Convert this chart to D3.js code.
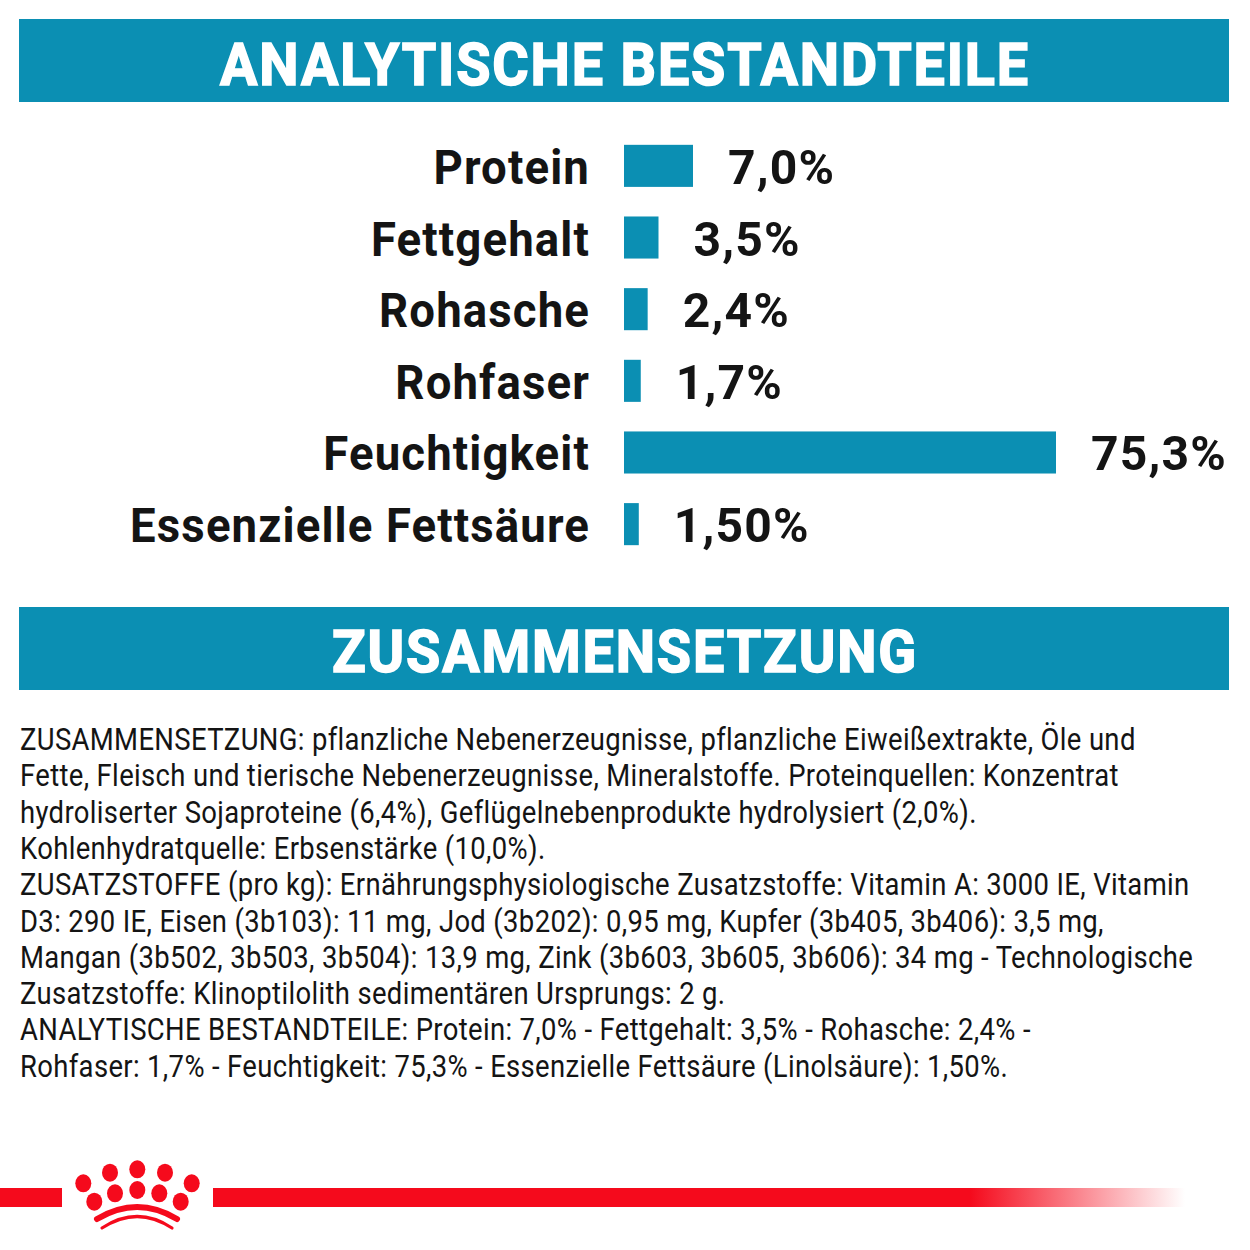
<!DOCTYPE html>
<html>
<head>
<meta charset="utf-8">
<script src="https://cdn.jsdelivr.net/npm/d3@7"></script>
<style>
  html, body { margin: 0; padding: 0; background: #fff; }
  svg { display: block; }
  text { font-family: Roboto, "Noto Sans", "Liberation Sans", sans-serif; }
</style>
</head>
<body>
<script>
// ---- data ----
const headers = ["ANALYTISCHE BESTANDTEILE", "ZUSAMMENSETZUNG"];
const categories = ["Protein", "Fettgehalt", "Rohasche", "Rohfaser", "Feuchtigkeit", "Essenzielle Fettsäure"];
const values = [7.0, 3.5, 2.4, 1.7, 75.3, 1.50];
const valueLabels = ["7,0%", "3,5%", "2,4%", "1,7%", "75,3%", "1,50%"];
const bodyLines = [
  "ZUSAMMENSETZUNG: pflanzliche Nebenerzeugnisse, pflanzliche Eiweißextrakte, Öle und",
  "Fette, Fleisch und tierische Nebenerzeugnisse, Mineralstoffe. Proteinquellen: Konzentrat",
  "hydroliserter Sojaproteine (6,4%), Geflügelnebenprodukte hydrolysiert (2,0%).",
  "Kohlenhydratquelle: Erbsenstärke (10,0%).",
  "ZUSATZSTOFFE (pro kg): Ernährungsphysiologische Zusatzstoffe: Vitamin A: 3000 IE, Vitamin",
  "D3: 290 IE, Eisen (3b103): 11 mg, Jod (3b202): 0,95 mg, Kupfer (3b405, 3b406): 3,5 mg,",
  "Mangan (3b502, 3b503, 3b504): 13,9 mg, Zink (3b603, 3b605, 3b606): 34 mg - Technologische",
  "Zusatzstoffe: Klinoptilolith sedimentären Ursprungs: 2 g.",
  "ANALYTISCHE BESTANDTEILE: Protein: 7,0% - Fettgehalt: 3,5% - Rohasche: 2,4% -",
  "Rohfaser: 1,7% - Feuchtigkeit: 75,3% - Essenzielle Fettsäure (Linolsäure): 1,50%."
];

// ---- layout ----
const W = 1250, H = 1250;
const BLUE = "#0b8fb3", RED = "#f50a1c", INK = "#141414";

const svg = d3.select("body").append("svg").attr("width", W).attr("height", H);

function measure(str, size, weight, spacing) {
  const t = svg.append("text").attr("font-size", size).attr("font-weight", weight)
    .attr("letter-spacing", spacing || 0).text(str);
  const w = t.node().getComputedTextLength();
  t.remove();
  return w;
}

// header bands
const headerBands = [{y: 19, h: 83, base: 85}, {y: 607, h: 83, base: 672}];
const hSize = 60, hSp = 2;
const hK = 810 / measure(headers[0], hSize, 700, hSp);
headers.forEach((h, i) => {
  const b = headerBands[i];
  svg.append("rect").attr("x", 19).attr("y", b.y).attr("width", 1210).attr("height", b.h).attr("fill", BLUE);
  svg.append("text")
    .attr("transform", `translate(625,${b.base}) scale(${hK},1)`)
    .attr("text-anchor", "middle")
    .attr("font-size", hSize).attr("font-weight", 700)
    .attr("letter-spacing", hSp)
    .attr("fill", "#fff").attr("stroke", "#fff").attr("stroke-width", 1.6)
    .text(h);
});

// bars
const x0 = 624;
const x = d3.scaleLinear().domain([0, 7, 75.3]).range([0, 69, 432]);
const y = d3.scaleBand().domain(categories).range([109, 581]).paddingInner(0.413).paddingOuter(0.5);

const rows = categories.map((c, i) => ({c, v: values[i], lab: valueLabels[i]}));

svg.append("g").selectAll("rect").data(rows).join("rect")
  .attr("x", x0)
  .attr("y", d => y(d.c))
  .attr("width", d => x(d.v))
  .attr("height", y.bandwidth())
  .attr("fill", BLUE);

const lSize = 49;
const lSp = 1.2;
const lK = 460 / measure("Essenzielle Fettsäure", lSize, 700, lSp);
svg.append("g").selectAll("text").data(rows).join("text")
  .attr("transform", d => `translate(590,${y(d.c) + y.bandwidth() / 2 + 18}) scale(${lK},1)`)
  .attr("text-anchor", "end")
  .attr("font-size", lSize).attr("font-weight", 700).attr("fill", INK)
  .attr("letter-spacing", lSp)
  .text(d => d.c);

const vK = 136 / measure("75,3%", lSize, 700, lSp);
svg.append("g").selectAll("text").data(rows).join("text")
  .attr("transform", d => `translate(${x0 + x(d.v) + 35},${y(d.c) + y.bandwidth() / 2 + 18}) scale(${vK},1)`)
  .attr("font-size", lSize).attr("font-weight", 700).attr("fill", INK)
  .attr("letter-spacing", lSp)
  .text(d => d.lab);

// body text
const bSize = 31;
const bK = 1116 / measure(bodyLines[0], bSize, 400, 0.4);
svg.append("g").selectAll("text").data(bodyLines).join("text")
  .attr("transform", (d, i) => `translate(20,${750 + i * 36.3}) scale(${bK},1)`)
  .attr("font-size", bSize).attr("font-weight", 400).attr("fill", INK)
  .attr("letter-spacing", 0.4)
  .text(d => d);

// ---- footer logo ----
const defs = svg.append("defs");
const grad = defs.append("linearGradient").attr("id", "fade")
  .attr("gradientUnits", "userSpaceOnUse").attr("x1", 970).attr("x2", 1185).attr("y1", 0).attr("y2", 0);
grad.append("stop").attr("offset", 0).attr("stop-color", RED).attr("stop-opacity", 1);
grad.append("stop").attr("offset", 1).attr("stop-color", RED).attr("stop-opacity", 0);

svg.append("rect").attr("x", 0).attr("y", 1188).attr("width", 62).attr("height", 19).attr("fill", RED);
svg.append("rect").attr("x", 213).attr("y", 1188).attr("width", 972).attr("height", 19).attr("fill", "url(#fade)");

const dots = [[83.3,1183.3],[110,1172.7],[137.3,1169.3],[165,1172.7],[191.7,1183.3],
              [94.3,1201.7],[115,1193.3],[137.3,1190],[159.3,1193.3],[180.7,1201.7]];
const crown = svg.append("g").attr("fill", RED);
crown.selectAll("ellipse").data(dots).join("ellipse")
  .attr("cx", d => d[0]).attr("cy", d => d[1]).attr("rx", 8).attr("ry", 9);
crown.append("path")
  .attr("d", "M97,1219 Q137.3,1195 177,1219")
  .attr("fill", "none").attr("stroke", RED).attr("stroke-width", 6).attr("stroke-linecap", "round");
crown.append("path")
  .attr("d", "M102,1228 Q137.3,1205 172,1228")
  .attr("fill", "none").attr("stroke", RED).attr("stroke-width", 3.2).attr("stroke-linecap", "round");
</script>
</body>
</html>
